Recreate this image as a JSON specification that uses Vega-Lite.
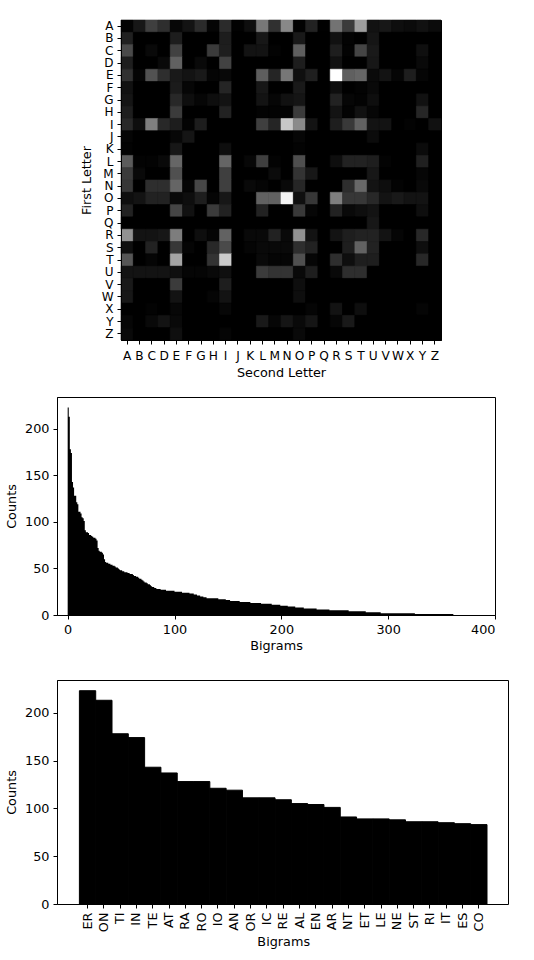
{
  "$schema": "https://vega.github.io/schema/vega-lite/v6.json",
  "padding": {"left": 5, "top": 19, "right": 0, "bottom": 0},
  "background": "white",
  "spacing": 16,
  "config": {
    "font": "DejaVu Sans",
    "axis": {"labelFont": "DejaVu Sans", "titleFont": "DejaVu Sans", "labelFontSize": 12.8, "titleFontSize": 12.8, "titleFontWeight": "normal", "labelColor": "black", "titleColor": "black", "tickColor": "black", "domainColor": "black", "tickSize": 4, "labelPadding": 4, "titlePadding": 5, "grid": false, "domainWidth": 1, "tickWidth": 1},
    "view": {"stroke": "black", "strokeWidth": 1}
  },
  "vconcat": [
    {
      "spacing": 0,
      "hconcat": [
        {"width": 22, "height": 320, "view": {"stroke": null}, "data": {"values": []}, "mark": "point"},
        {
          "width": 320, "height": 320,
          "view": {"fill": "black", "stroke": "black"},
          "data": {"values": [
{"f":"A","s":"A","c":3},{"f":"A","s":"B","c":20},{"f":"A","s":"C","c":55},{"f":"A","s":"D","c":40},{"f":"A","s":"E","c":6},{"f":"A","s":"F","c":17},{"f":"A","s":"G","c":38},{"f":"A","s":"H","c":4},{"f":"A","s":"I","c":38},{"f":"A","s":"J","c":2},{"f":"A","s":"K","c":12},{"f":"A","s":"L","c":105},{"f":"A","s":"M","c":42},{"f":"A","s":"N","c":119},{"f":"A","s":"O","c":2},{"f":"A","s":"P","c":30},{"f":"A","s":"Q","c":1},{"f":"A","s":"R","c":101},{"f":"A","s":"S","c":52},{"f":"A","s":"T","c":137},{"f":"A","s":"U","c":16},{"f":"A","s":"V","c":20},{"f":"A","s":"W","c":12},{"f":"A","s":"X","c":10},{"f":"A","s":"Y","c":15},{"f":"A","s":"Z","c":10},
{"f":"B","s":"A","c":28},{"f":"B","s":"B","c":0},{"f":"B","s":"C","c":0},{"f":"B","s":"D","c":0},{"f":"B","s":"E","c":25},{"f":"B","s":"F","c":0},{"f":"B","s":"G","c":0},{"f":"B","s":"H","c":0},{"f":"B","s":"I","c":25},{"f":"B","s":"J","c":0},{"f":"B","s":"K","c":0},{"f":"B","s":"L","c":20},{"f":"B","s":"M","c":0},{"f":"B","s":"N","c":0},{"f":"B","s":"O","c":22},{"f":"B","s":"P","c":0},{"f":"B","s":"Q","c":0},{"f":"B","s":"R","c":15},{"f":"B","s":"S","c":3},{"f":"B","s":"T","c":0},{"f":"B","s":"U","c":18},{"f":"B","s":"V","c":0},{"f":"B","s":"W","c":0},{"f":"B","s":"X","c":0},{"f":"B","s":"Y","c":0},{"f":"B","s":"Z","c":0},
{"f":"C","s":"A","c":65},{"f":"C","s":"B","c":0},{"f":"C","s":"C","c":8},{"f":"C","s":"D","c":0},{"f":"C","s":"E","c":57},{"f":"C","s":"F","c":0},{"f":"C","s":"G","c":0},{"f":"C","s":"H","c":52},{"f":"C","s":"I","c":26},{"f":"C","s":"J","c":0},{"f":"C","s":"K","c":17},{"f":"C","s":"L","c":17},{"f":"C","s":"M","c":3},{"f":"C","s":"N","c":0},{"f":"C","s":"O","c":83},{"f":"C","s":"P","c":0},{"f":"C","s":"Q","c":0},{"f":"C","s":"R","c":26},{"f":"C","s":"S","c":3},{"f":"C","s":"T","c":60},{"f":"C","s":"U","c":22},{"f":"C","s":"V","c":0},{"f":"C","s":"W","c":0},{"f":"C","s":"X","c":0},{"f":"C","s":"Y","c":13},{"f":"C","s":"Z","c":0},
{"f":"D","s":"A","c":26},{"f":"D","s":"B","c":0},{"f":"D","s":"C","c":0},{"f":"D","s":"D","c":8},{"f":"D","s":"E","c":85},{"f":"D","s":"F","c":0},{"f":"D","s":"G","c":8},{"f":"D","s":"H","c":0},{"f":"D","s":"I","c":58},{"f":"D","s":"J","c":0},{"f":"D","s":"K","c":0},{"f":"D","s":"L","c":0},{"f":"D","s":"M","c":0},{"f":"D","s":"N","c":0},{"f":"D","s":"O","c":25},{"f":"D","s":"P","c":0},{"f":"D","s":"Q","c":0},{"f":"D","s":"R","c":15},{"f":"D","s":"S","c":0},{"f":"D","s":"T","c":0},{"f":"D","s":"U","c":20},{"f":"D","s":"V","c":0},{"f":"D","s":"W","c":0},{"f":"D","s":"X","c":0},{"f":"D","s":"Y","c":8},{"f":"D","s":"Z","c":0},
{"f":"E","s":"A","c":43},{"f":"E","s":"B","c":4},{"f":"E","s":"C","c":72},{"f":"E","s":"D","c":40},{"f":"E","s":"E","c":22},{"f":"E","s":"F","c":17},{"f":"E","s":"G","c":22},{"f":"E","s":"H","c":4},{"f":"E","s":"I","c":7},{"f":"E","s":"J","c":0},{"f":"E","s":"K","c":0},{"f":"E","s":"L","c":82},{"f":"E","s":"M","c":32},{"f":"E","s":"N","c":104},{"f":"E","s":"O","c":13},{"f":"E","s":"P","c":27},{"f":"E","s":"Q","c":0},{"f":"E","s":"R","c":223},{"f":"E","s":"S","c":84},{"f":"E","s":"T","c":89},{"f":"E","s":"U","c":9},{"f":"E","s":"V","c":17},{"f":"E","s":"W","c":4},{"f":"E","s":"X","c":26},{"f":"E","s":"Y","c":4},{"f":"E","s":"Z","c":0},
{"f":"F","s":"A","c":15},{"f":"F","s":"B","c":0},{"f":"F","s":"C","c":0},{"f":"F","s":"D","c":0},{"f":"F","s":"E","c":24},{"f":"F","s":"F","c":5},{"f":"F","s":"G","c":0},{"f":"F","s":"H","c":0},{"f":"F","s":"I","c":32},{"f":"F","s":"J","c":0},{"f":"F","s":"K","c":0},{"f":"F","s":"L","c":20},{"f":"F","s":"M","c":0},{"f":"F","s":"N","c":0},{"f":"F","s":"O","c":22},{"f":"F","s":"P","c":0},{"f":"F","s":"Q","c":0},{"f":"F","s":"R","c":12},{"f":"F","s":"S","c":0},{"f":"F","s":"T","c":3},{"f":"F","s":"U","c":8},{"f":"F","s":"V","c":0},{"f":"F","s":"W","c":0},{"f":"F","s":"X","c":0},{"f":"F","s":"Y","c":0},{"f":"F","s":"Z","c":0},
{"f":"G","s":"A","c":18},{"f":"G","s":"B","c":0},{"f":"G","s":"C","c":0},{"f":"G","s":"D","c":0},{"f":"G","s":"E","c":35},{"f":"G","s":"F","c":12},{"f":"G","s":"G","c":5},{"f":"G","s":"H","c":12},{"f":"G","s":"I","c":17},{"f":"G","s":"J","c":0},{"f":"G","s":"K","c":0},{"f":"G","s":"L","c":17},{"f":"G","s":"M","c":5},{"f":"G","s":"N","c":15},{"f":"G","s":"O","c":18},{"f":"G","s":"P","c":0},{"f":"G","s":"Q","c":0},{"f":"G","s":"R","c":30},{"f":"G","s":"S","c":5},{"f":"G","s":"T","c":3},{"f":"G","s":"U","c":12},{"f":"G","s":"V","c":0},{"f":"G","s":"W","c":0},{"f":"G","s":"X","c":0},{"f":"G","s":"Y","c":15},{"f":"G","s":"Z","c":0},
{"f":"H","s":"A","c":26},{"f":"H","s":"B","c":0},{"f":"H","s":"C","c":0},{"f":"H","s":"D","c":0},{"f":"H","s":"E","c":52},{"f":"H","s":"F","c":0},{"f":"H","s":"G","c":0},{"f":"H","s":"H","c":0},{"f":"H","s":"I","c":30},{"f":"H","s":"J","c":0},{"f":"H","s":"K","c":0},{"f":"H","s":"L","c":3},{"f":"H","s":"M","c":3},{"f":"H","s":"N","c":3},{"f":"H","s":"O","c":52},{"f":"H","s":"P","c":0},{"f":"H","s":"Q","c":0},{"f":"H","s":"R","c":17},{"f":"H","s":"S","c":3},{"f":"H","s":"T","c":15},{"f":"H","s":"U","c":5},{"f":"H","s":"V","c":0},{"f":"H","s":"W","c":0},{"f":"H","s":"X","c":0},{"f":"H","s":"Y","c":33},{"f":"H","s":"Z","c":0},
{"f":"I","s":"A","c":35},{"f":"I","s":"B","c":12},{"f":"I","s":"C","c":111},{"f":"I","s":"D","c":35},{"f":"I","s":"E","c":25},{"f":"I","s":"F","c":3},{"f":"I","s":"G","c":25},{"f":"I","s":"H","c":0},{"f":"I","s":"I","c":0},{"f":"I","s":"J","c":0},{"f":"I","s":"K","c":0},{"f":"I","s":"L","c":55},{"f":"I","s":"M","c":32},{"f":"I","s":"N","c":174},{"f":"I","s":"O","c":121},{"f":"I","s":"P","c":17},{"f":"I","s":"Q","c":0},{"f":"I","s":"R","c":26},{"f":"I","s":"S","c":50},{"f":"I","s":"T","c":85},{"f":"I","s":"U","c":17},{"f":"I","s":"V","c":17},{"f":"I","s":"W","c":0},{"f":"I","s":"X","c":3},{"f":"I","s":"Y","c":0},{"f":"I","s":"Z","c":15},
{"f":"J","s":"A","c":4},{"f":"J","s":"B","c":0},{"f":"J","s":"C","c":0},{"f":"J","s":"D","c":0},{"f":"J","s":"E","c":6},{"f":"J","s":"F","c":18},{"f":"J","s":"G","c":0},{"f":"J","s":"H","c":0},{"f":"J","s":"I","c":0},{"f":"J","s":"J","c":0},{"f":"J","s":"K","c":0},{"f":"J","s":"L","c":0},{"f":"J","s":"M","c":0},{"f":"J","s":"N","c":0},{"f":"J","s":"O","c":5},{"f":"J","s":"P","c":0},{"f":"J","s":"Q","c":0},{"f":"J","s":"R","c":0},{"f":"J","s":"S","c":0},{"f":"J","s":"T","c":0},{"f":"J","s":"U","c":10},{"f":"J","s":"V","c":0},{"f":"J","s":"W","c":0},{"f":"J","s":"X","c":0},{"f":"J","s":"Y","c":0},{"f":"J","s":"Z","c":0},
{"f":"K","s":"A","c":3},{"f":"K","s":"B","c":0},{"f":"K","s":"C","c":0},{"f":"K","s":"D","c":0},{"f":"K","s":"E","c":20},{"f":"K","s":"F","c":0},{"f":"K","s":"G","c":0},{"f":"K","s":"H","c":0},{"f":"K","s":"I","c":12},{"f":"K","s":"J","c":0},{"f":"K","s":"K","c":0},{"f":"K","s":"L","c":0},{"f":"K","s":"M","c":0},{"f":"K","s":"N","c":0},{"f":"K","s":"O","c":3},{"f":"K","s":"P","c":0},{"f":"K","s":"Q","c":0},{"f":"K","s":"R","c":0},{"f":"K","s":"S","c":0},{"f":"K","s":"T","c":0},{"f":"K","s":"U","c":0},{"f":"K","s":"V","c":0},{"f":"K","s":"W","c":0},{"f":"K","s":"X","c":0},{"f":"K","s":"Y","c":10},{"f":"K","s":"Z","c":0},
{"f":"L","s":"A","c":80},{"f":"L","s":"B","c":3},{"f":"L","s":"C","c":3},{"f":"L","s":"D","c":8},{"f":"L","s":"E","c":89},{"f":"L","s":"F","c":0},{"f":"L","s":"G","c":0},{"f":"L","s":"H","c":0},{"f":"L","s":"I","c":88},{"f":"L","s":"J","c":0},{"f":"L","s":"K","c":6},{"f":"L","s":"L","c":55},{"f":"L","s":"M","c":3},{"f":"L","s":"N","c":0},{"f":"L","s":"O","c":68},{"f":"L","s":"P","c":0},{"f":"L","s":"Q","c":0},{"f":"L","s":"R","c":12},{"f":"L","s":"S","c":30},{"f":"L","s":"T","c":30},{"f":"L","s":"U","c":26},{"f":"L","s":"V","c":3},{"f":"L","s":"W","c":0},{"f":"L","s":"X","c":0},{"f":"L","s":"Y","c":28},{"f":"L","s":"Z","c":0},
{"f":"M","s":"A","c":52},{"f":"M","s":"B","c":8},{"f":"M","s":"C","c":0},{"f":"M","s":"D","c":0},{"f":"M","s":"E","c":70},{"f":"M","s":"F","c":0},{"f":"M","s":"G","c":0},{"f":"M","s":"H","c":0},{"f":"M","s":"I","c":55},{"f":"M","s":"J","c":0},{"f":"M","s":"K","c":0},{"f":"M","s":"L","c":0},{"f":"M","s":"M","c":10},{"f":"M","s":"N","c":0},{"f":"M","s":"O","c":45},{"f":"M","s":"P","c":20},{"f":"M","s":"Q","c":0},{"f":"M","s":"R","c":0},{"f":"M","s":"S","c":0},{"f":"M","s":"T","c":0},{"f":"M","s":"U","c":20},{"f":"M","s":"V","c":0},{"f":"M","s":"W","c":0},{"f":"M","s":"X","c":0},{"f":"M","s":"Y","c":5},{"f":"M","s":"Z","c":0},
{"f":"N","s":"A","c":48},{"f":"N","s":"B","c":0},{"f":"N","s":"C","c":40},{"f":"N","s":"D","c":40},{"f":"N","s":"E","c":88},{"f":"N","s":"F","c":4},{"f":"N","s":"G","c":62},{"f":"N","s":"H","c":0},{"f":"N","s":"I","c":55},{"f":"N","s":"J","c":0},{"f":"N","s":"K","c":8},{"f":"N","s":"L","c":4},{"f":"N","s":"M","c":0},{"f":"N","s":"N","c":8},{"f":"N","s":"O","c":33},{"f":"N","s":"P","c":0},{"f":"N","s":"Q","c":0},{"f":"N","s":"R","c":0},{"f":"N","s":"S","c":40},{"f":"N","s":"T","c":91},{"f":"N","s":"U","c":17},{"f":"N","s":"V","c":12},{"f":"N","s":"W","c":3},{"f":"N","s":"X","c":0},{"f":"N","s":"Y","c":8},{"f":"N","s":"Z","c":0},
{"f":"O","s":"A","c":12},{"f":"O","s":"B","c":17},{"f":"O","s":"C","c":30},{"f":"O","s":"D","c":30},{"f":"O","s":"E","c":8},{"f":"O","s":"F","c":12},{"f":"O","s":"G","c":26},{"f":"O","s":"H","c":4},{"f":"O","s":"I","c":20},{"f":"O","s":"J","c":0},{"f":"O","s":"K","c":0},{"f":"O","s":"L","c":85},{"f":"O","s":"M","c":85},{"f":"O","s":"N","c":213},{"f":"O","s":"O","c":13},{"f":"O","s":"P","c":48},{"f":"O","s":"Q","c":0},{"f":"O","s":"R","c":111},{"f":"O","s":"S","c":48},{"f":"O","s":"T","c":48},{"f":"O","s":"U","c":35},{"f":"O","s":"V","c":17},{"f":"O","s":"W","c":22},{"f":"O","s":"X","c":17},{"f":"O","s":"Y","c":17},{"f":"O","s":"Z","c":0},
{"f":"P","s":"A","c":30},{"f":"P","s":"B","c":0},{"f":"P","s":"C","c":0},{"f":"P","s":"D","c":0},{"f":"P","s":"E","c":60},{"f":"P","s":"F","c":15},{"f":"P","s":"G","c":0},{"f":"P","s":"H","c":52},{"f":"P","s":"I","c":30},{"f":"P","s":"J","c":0},{"f":"P","s":"K","c":0},{"f":"P","s":"L","c":30},{"f":"P","s":"M","c":0},{"f":"P","s":"N","c":0},{"f":"P","s":"O","c":50},{"f":"P","s":"P","c":5},{"f":"P","s":"Q","c":0},{"f":"P","s":"R","c":30},{"f":"P","s":"S","c":8},{"f":"P","s":"T","c":12},{"f":"P","s":"U","c":17},{"f":"P","s":"V","c":0},{"f":"P","s":"W","c":0},{"f":"P","s":"X","c":0},{"f":"P","s":"Y","c":12},{"f":"P","s":"Z","c":0},
{"f":"Q","s":"A","c":0},{"f":"Q","s":"B","c":0},{"f":"Q","s":"C","c":0},{"f":"Q","s":"D","c":0},{"f":"Q","s":"E","c":0},{"f":"Q","s":"F","c":0},{"f":"Q","s":"G","c":0},{"f":"Q","s":"H","c":0},{"f":"Q","s":"I","c":0},{"f":"Q","s":"J","c":0},{"f":"Q","s":"K","c":0},{"f":"Q","s":"L","c":0},{"f":"Q","s":"M","c":0},{"f":"Q","s":"N","c":0},{"f":"Q","s":"O","c":0},{"f":"Q","s":"P","c":0},{"f":"Q","s":"Q","c":0},{"f":"Q","s":"R","c":0},{"f":"Q","s":"S","c":0},{"f":"Q","s":"T","c":0},{"f":"Q","s":"U","c":20},{"f":"Q","s":"V","c":0},{"f":"Q","s":"W","c":0},{"f":"Q","s":"X","c":0},{"f":"Q","s":"Y","c":0},{"f":"Q","s":"Z","c":0},
{"f":"R","s":"A","c":128},{"f":"R","s":"B","c":17},{"f":"R","s":"C","c":17},{"f":"R","s":"D","c":20},{"f":"R","s":"E","c":109},{"f":"R","s":"F","c":0},{"f":"R","s":"G","c":12},{"f":"R","s":"H","c":4},{"f":"R","s":"I","c":86},{"f":"R","s":"J","c":0},{"f":"R","s":"K","c":8},{"f":"R","s":"L","c":8},{"f":"R","s":"M","c":30},{"f":"R","s":"N","c":8},{"f":"R","s":"O","c":128},{"f":"R","s":"P","c":17},{"f":"R","s":"Q","c":0},{"f":"R","s":"R","c":17},{"f":"R","s":"S","c":26},{"f":"R","s":"T","c":30},{"f":"R","s":"U","c":30},{"f":"R","s":"V","c":17},{"f":"R","s":"W","c":4},{"f":"R","s":"X","c":0},{"f":"R","s":"Y","c":35},{"f":"R","s":"Z","c":0},
{"f":"S","s":"A","c":13},{"f":"S","s":"B","c":0},{"f":"S","s":"C","c":30},{"f":"S","s":"D","c":0},{"f":"S","s":"E","c":48},{"f":"S","s":"F","c":4},{"f":"S","s":"G","c":0},{"f":"S","s":"H","c":35},{"f":"S","s":"I","c":65},{"f":"S","s":"J","c":0},{"f":"S","s":"K","c":4},{"f":"S","s":"L","c":8},{"f":"S","s":"M","c":8},{"f":"S","s":"N","c":8},{"f":"S","s":"O","c":40},{"f":"S","s":"P","c":30},{"f":"S","s":"Q","c":0},{"f":"S","s":"R","c":0},{"f":"S","s":"S","c":26},{"f":"S","s":"T","c":86},{"f":"S","s":"U","c":30},{"f":"S","s":"V","c":0},{"f":"S","s":"W","c":0},{"f":"S","s":"X","c":0},{"f":"S","s":"Y","c":12},{"f":"S","s":"Z","c":0},
{"f":"T","s":"A","c":75},{"f":"T","s":"B","c":0},{"f":"T","s":"C","c":4},{"f":"T","s":"D","c":0},{"f":"T","s":"E","c":143},{"f":"T","s":"F","c":0},{"f":"T","s":"G","c":0},{"f":"T","s":"H","c":45},{"f":"T","s":"I","c":178},{"f":"T","s":"J","c":0},{"f":"T","s":"K","c":0},{"f":"T","s":"L","c":8},{"f":"T","s":"M","c":4},{"f":"T","s":"N","c":4},{"f":"T","s":"O","c":70},{"f":"T","s":"P","c":5},{"f":"T","s":"Q","c":0},{"f":"T","s":"R","c":40},{"f":"T","s":"S","c":12},{"f":"T","s":"T","c":26},{"f":"T","s":"U","c":26},{"f":"T","s":"V","c":0},{"f":"T","s":"W","c":0},{"f":"T","s":"X","c":0},{"f":"T","s":"Y","c":35},{"f":"T","s":"Z","c":0},
{"f":"U","s":"A","c":17},{"f":"U","s":"B","c":17},{"f":"U","s":"C","c":17},{"f":"U","s":"D","c":17},{"f":"U","s":"E","c":13},{"f":"U","s":"F","c":4},{"f":"U","s":"G","c":4},{"f":"U","s":"H","c":8},{"f":"U","s":"I","c":13},{"f":"U","s":"J","c":0},{"f":"U","s":"K","c":0},{"f":"U","s":"L","c":52},{"f":"U","s":"M","c":45},{"f":"U","s":"N","c":45},{"f":"U","s":"O","c":8},{"f":"U","s":"P","c":26},{"f":"U","s":"Q","c":0},{"f":"U","s":"R","c":8},{"f":"U","s":"S","c":40},{"f":"U","s":"T","c":40},{"f":"U","s":"U","c":0},{"f":"U","s":"V","c":0},{"f":"U","s":"W","c":0},{"f":"U","s":"X","c":0},{"f":"U","s":"Y","c":0},{"f":"U","s":"Z","c":0},
{"f":"V","s":"A","c":22},{"f":"V","s":"B","c":0},{"f":"V","s":"C","c":0},{"f":"V","s":"D","c":0},{"f":"V","s":"E","c":52},{"f":"V","s":"F","c":0},{"f":"V","s":"G","c":0},{"f":"V","s":"H","c":0},{"f":"V","s":"I","c":26},{"f":"V","s":"J","c":0},{"f":"V","s":"K","c":0},{"f":"V","s":"L","c":0},{"f":"V","s":"M","c":0},{"f":"V","s":"N","c":0},{"f":"V","s":"O","c":12},{"f":"V","s":"P","c":0},{"f":"V","s":"Q","c":0},{"f":"V","s":"R","c":0},{"f":"V","s":"S","c":0},{"f":"V","s":"T","c":0},{"f":"V","s":"U","c":0},{"f":"V","s":"V","c":0},{"f":"V","s":"W","c":0},{"f":"V","s":"X","c":0},{"f":"V","s":"Y","c":0},{"f":"V","s":"Z","c":0},
{"f":"W","s":"A","c":20},{"f":"W","s":"B","c":0},{"f":"W","s":"C","c":0},{"f":"W","s":"D","c":0},{"f":"W","s":"E","c":17},{"f":"W","s":"F","c":0},{"f":"W","s":"G","c":0},{"f":"W","s":"H","c":4},{"f":"W","s":"I","c":17},{"f":"W","s":"J","c":0},{"f":"W","s":"K","c":0},{"f":"W","s":"L","c":0},{"f":"W","s":"M","c":0},{"f":"W","s":"N","c":0},{"f":"W","s":"O","c":12},{"f":"W","s":"P","c":0},{"f":"W","s":"Q","c":0},{"f":"W","s":"R","c":0},{"f":"W","s":"S","c":0},{"f":"W","s":"T","c":0},{"f":"W","s":"U","c":0},{"f":"W","s":"V","c":0},{"f":"W","s":"W","c":0},{"f":"W","s":"X","c":0},{"f":"W","s":"Y","c":0},{"f":"W","s":"Z","c":0},
{"f":"X","s":"A","c":0},{"f":"X","s":"B","c":0},{"f":"X","s":"C","c":3},{"f":"X","s":"D","c":0},{"f":"X","s":"E","c":6},{"f":"X","s":"F","c":0},{"f":"X","s":"G","c":0},{"f":"X","s":"H","c":0},{"f":"X","s":"I","c":6},{"f":"X","s":"J","c":0},{"f":"X","s":"K","c":0},{"f":"X","s":"L","c":0},{"f":"X","s":"M","c":0},{"f":"X","s":"N","c":0},{"f":"X","s":"O","c":0},{"f":"X","s":"P","c":4},{"f":"X","s":"Q","c":0},{"f":"X","s":"R","c":17},{"f":"X","s":"S","c":0},{"f":"X","s":"T","c":12},{"f":"X","s":"U","c":0},{"f":"X","s":"V","c":0},{"f":"X","s":"W","c":0},{"f":"X","s":"X","c":0},{"f":"X","s":"Y","c":4},{"f":"X","s":"Z","c":0},
{"f":"Y","s":"A","c":5},{"f":"Y","s":"B","c":0},{"f":"Y","s":"C","c":8},{"f":"Y","s":"D","c":17},{"f":"Y","s":"E","c":8},{"f":"Y","s":"F","c":0},{"f":"Y","s":"G","c":0},{"f":"Y","s":"H","c":0},{"f":"Y","s":"I","c":0},{"f":"Y","s":"J","c":0},{"f":"Y","s":"K","c":0},{"f":"Y","s":"L","c":22},{"f":"Y","s":"M","c":5},{"f":"Y","s":"N","c":18},{"f":"Y","s":"O","c":8},{"f":"Y","s":"P","c":18},{"f":"Y","s":"Q","c":0},{"f":"Y","s":"R","c":5},{"f":"Y","s":"S","c":22},{"f":"Y","s":"T","c":0},{"f":"Y","s":"U","c":0},{"f":"Y","s":"V","c":0},{"f":"Y","s":"W","c":0},{"f":"Y","s":"X","c":0},{"f":"Y","s":"Y","c":0},{"f":"Y","s":"Z","c":0},
{"f":"Z","s":"A","c":8},{"f":"Z","s":"B","c":0},{"f":"Z","s":"C","c":0},{"f":"Z","s":"D","c":0},{"f":"Z","s":"E","c":13},{"f":"Z","s":"F","c":0},{"f":"Z","s":"G","c":0},{"f":"Z","s":"H","c":0},{"f":"Z","s":"I","c":4},{"f":"Z","s":"J","c":0},{"f":"Z","s":"K","c":0},{"f":"Z","s":"L","c":0},{"f":"Z","s":"M","c":0},{"f":"Z","s":"N","c":0},{"f":"Z","s":"O","c":8},{"f":"Z","s":"P","c":0},{"f":"Z","s":"Q","c":0},{"f":"Z","s":"R","c":0},{"f":"Z","s":"S","c":0},{"f":"Z","s":"T","c":0},{"f":"Z","s":"U","c":0},{"f":"Z","s":"V","c":0},{"f":"Z","s":"W","c":0},{"f":"Z","s":"X","c":0},{"f":"Z","s":"Y","c":0},{"f":"Z","s":"Z","c":0}
          ]},
          "mark": {"type": "rect", "strokeWidth": 0.6},
          "encoding": {
            "x": {"field": "s", "type": "nominal", "title": "Second Letter", "scale": {"paddingInner": 0, "paddingOuter": 0}, "axis": {"labelAngle": 0, "labelFontSize": 12.2, "labelPadding": 5, "titlePadding": 5}},
            "y": {"field": "f", "type": "nominal", "title": "First Letter", "scale": {"paddingInner": 0, "paddingOuter": 0}, "axis": {"labelFontSize": 12, "labelPadding": 4, "titlePadding": 8}},
            "color": {"field": "c", "type": "quantitative", "scale": {"domain": [0, 223], "range": ["#000000", "#ffffff"], "interpolate": "rgb"}, "legend": null},
            "stroke": {"field": "c", "type": "quantitative", "scale": {"domain": [0, 223], "range": ["#000000", "#ffffff"], "interpolate": "rgb"}, "legend": null}
          }
        }
      ]
    },
    {
      "spacing": 25,
      "vconcat": [
        {
          "width": 438, "height": 218,
          "data": {"values": [
{"r":0,"c":223},{"r":1,"c":213},{"r":2,"c":178},{"r":3,"c":174},{"r":4,"c":143},{"r":5,"c":137},{"r":6,"c":128},{"r":7,"c":128},{"r":8,"c":121},{"r":9,"c":119},{"r":10,"c":111},{"r":11,"c":111},{"r":12,"c":109},{"r":13,"c":105},{"r":14,"c":104},{"r":15,"c":101},{"r":16,"c":91},{"r":17,"c":89},{"r":18,"c":89},{"r":19,"c":88},{"r":20,"c":86},{"r":21,"c":86},{"r":22,"c":85},{"r":23,"c":84},{"r":24,"c":83},
{"r":25,"c":83},{"r":26,"c":82},{"r":27,"c":80},{"r":28,"c":72},{"r":29,"c":69},{"r":30,"c":68},{"r":31,"c":68},{"r":32,"c":67},{"r":33,"c":65},{"r":34,"c":60},{"r":35,"c":57},{"r":36,"c":56},{"r":37,"c":56},{"r":38,"c":55},{"r":39,"c":55},{"r":40,"c":54},{"r":41,"c":54},{"r":42,"c":53},{"r":43,"c":53},{"r":44,"c":52},{"r":45,"c":51},{"r":46,"c":51},{"r":47,"c":50},{"r":48,"c":49},{"r":49,"c":48},{"r":50,"c":48},{"r":51,"c":47},{"r":52,"c":47},{"r":53,"c":46},{"r":54,"c":46},{"r":55,"c":46},{"r":56,"c":45},{"r":57,"c":45},{"r":58,"c":44},{"r":59,"c":44},{"r":60,"c":44},{"r":61,"c":43},{"r":62,"c":42},{"r":63,"c":42},{"r":64,"c":41},{"r":65,"c":41},{"r":66,"c":40},{"r":67,"c":39},{"r":68,"c":39},{"r":69,"c":38},{"r":70,"c":37},{"r":71,"c":36},{"r":72,"c":35},{"r":73,"c":35},{"r":74,"c":34},{"r":75,"c":33},{"r":76,"c":33},{"r":77,"c":32},{"r":78,"c":31},{"r":79,"c":30},{"r":80,"c":30},{"r":81,"c":29},{"r":82,"c":29},{"r":83,"c":28},{"r":84,"c":28},{"r":85,"c":28},{"r":86,"c":28},{"r":87,"c":27},{"r":88,"c":27},{"r":89,"c":27},{"r":90,"c":27},{"r":91,"c":27},
{"r":92,"c":26},{"r":93,"c":26},{"r":94,"c":26},{"r":95,"c":26},{"r":96,"c":26},{"r":97,"c":26},{"r":98,"c":26},{"r":99,"c":26},
{"r":100,"c":25},{"r":101,"c":25},{"r":102,"c":25},{"r":103,"c":25},{"r":104,"c":25},{"r":105,"c":25},{"r":106,"c":25},
{"r":107,"c":24},{"r":108,"c":24},{"r":109,"c":24},{"r":110,"c":24},{"r":111,"c":24},{"r":112,"c":24},{"r":113,"c":24},
{"r":114,"c":23},{"r":115,"c":23},{"r":116,"c":23},{"r":117,"c":23},
{"r":118,"c":22},{"r":119,"c":22},{"r":120,"c":22},
{"r":121,"c":21},{"r":122,"c":21},{"r":123,"c":21},
{"r":124,"c":20},{"r":125,"c":20},{"r":126,"c":20},
{"r":127,"c":19},{"r":128,"c":19},{"r":129,"c":19},
{"r":130,"c":18},{"r":131,"c":18},{"r":132,"c":18},{"r":133,"c":18},{"r":134,"c":18},{"r":135,"c":18},{"r":136,"c":18},{"r":137,"c":18},{"r":138,"c":18},{"r":139,"c":18},{"r":140,"c":18},
{"r":141,"c":17},{"r":142,"c":17},{"r":143,"c":17},{"r":144,"c":17},{"r":145,"c":17},{"r":146,"c":17},{"r":147,"c":17},
{"r":148,"c":16},{"r":149,"c":16},{"r":150,"c":16},{"r":151,"c":16},
{"r":152,"c":15},{"r":153,"c":15},{"r":154,"c":15},{"r":155,"c":15},{"r":156,"c":15},{"r":157,"c":15},{"r":158,"c":15},{"r":159,"c":15},{"r":160,"c":15},
{"r":161,"c":14},{"r":162,"c":14},{"r":163,"c":14},{"r":164,"c":14},{"r":165,"c":14},{"r":166,"c":14},{"r":167,"c":14},{"r":168,"c":14},{"r":169,"c":14},{"r":170,"c":14},
{"r":171,"c":13},{"r":172,"c":13},{"r":173,"c":13},{"r":174,"c":13},{"r":175,"c":13},{"r":176,"c":13},{"r":177,"c":13},{"r":178,"c":13},{"r":179,"c":13},{"r":180,"c":13},
{"r":181,"c":12},{"r":182,"c":12},{"r":183,"c":12},{"r":184,"c":12},{"r":185,"c":12},{"r":186,"c":12},{"r":187,"c":12},{"r":188,"c":12},{"r":189,"c":12},{"r":190,"c":12},
{"r":191,"c":11},{"r":192,"c":11},{"r":193,"c":11},{"r":194,"c":11},{"r":195,"c":11},{"r":196,"c":11},{"r":197,"c":11},{"r":198,"c":11},
{"r":199,"c":10},{"r":200,"c":10},{"r":201,"c":10},{"r":202,"c":10},{"r":203,"c":10},{"r":204,"c":10},{"r":205,"c":10},
{"r":206,"c":9},{"r":207,"c":9},{"r":208,"c":9},{"r":209,"c":9},{"r":210,"c":9},{"r":211,"c":9},{"r":212,"c":9},
{"r":213,"c":8},{"r":214,"c":8},{"r":215,"c":8},{"r":216,"c":8},{"r":217,"c":8},{"r":218,"c":8},{"r":219,"c":8},{"r":220,"c":8},
{"r":221,"c":7},{"r":222,"c":7},{"r":223,"c":7},{"r":224,"c":7},{"r":225,"c":7},{"r":226,"c":7},{"r":227,"c":7},{"r":228,"c":7},{"r":229,"c":7},{"r":230,"c":7},{"r":231,"c":7},{"r":232,"c":7},
{"r":233,"c":6},{"r":234,"c":6},{"r":235,"c":6},{"r":236,"c":6},{"r":237,"c":6},{"r":238,"c":6},{"r":239,"c":6},{"r":240,"c":6},{"r":241,"c":6},{"r":242,"c":6},{"r":243,"c":6},{"r":244,"c":6},
{"r":245,"c":5},{"r":246,"c":5},{"r":247,"c":5},{"r":248,"c":5},{"r":249,"c":5},{"r":250,"c":5},{"r":251,"c":5},{"r":252,"c":5},{"r":253,"c":5},{"r":254,"c":5},{"r":255,"c":5},{"r":256,"c":5},{"r":257,"c":5},{"r":258,"c":5},{"r":259,"c":5},{"r":260,"c":5},{"r":261,"c":5},{"r":262,"c":5},
{"r":263,"c":4},{"r":264,"c":4},{"r":265,"c":4},{"r":266,"c":4},{"r":267,"c":4},{"r":268,"c":4},{"r":269,"c":4},{"r":270,"c":4},{"r":271,"c":4},{"r":272,"c":4},{"r":273,"c":4},{"r":274,"c":4},{"r":275,"c":4},{"r":276,"c":4},{"r":277,"c":4},{"r":278,"c":4},
{"r":279,"c":3},{"r":280,"c":3},{"r":281,"c":3},{"r":282,"c":3},{"r":283,"c":3},{"r":284,"c":3},{"r":285,"c":3},{"r":286,"c":3},{"r":287,"c":3},{"r":288,"c":3},{"r":289,"c":3},{"r":290,"c":3},{"r":291,"c":3},{"r":292,"c":3},
{"r":293,"c":2},{"r":294,"c":2},{"r":295,"c":2},{"r":296,"c":2},{"r":297,"c":2},{"r":298,"c":2},{"r":299,"c":2},{"r":300,"c":2},{"r":301,"c":2},{"r":302,"c":2},{"r":303,"c":2},{"r":304,"c":2},{"r":305,"c":2},{"r":306,"c":2},{"r":307,"c":2},{"r":308,"c":2},{"r":309,"c":2},{"r":310,"c":2},{"r":311,"c":2},{"r":312,"c":2},{"r":313,"c":2},{"r":314,"c":2},{"r":315,"c":2},{"r":316,"c":2},{"r":317,"c":2},{"r":318,"c":2},{"r":319,"c":2},{"r":320,"c":2},{"r":321,"c":2},{"r":322,"c":2},{"r":323,"c":2},{"r":324,"c":2},
{"r":325,"c":1},{"r":326,"c":1},{"r":327,"c":1},{"r":328,"c":1},{"r":329,"c":1},{"r":330,"c":1},{"r":331,"c":1},{"r":332,"c":1},{"r":333,"c":1},{"r":334,"c":1},{"r":335,"c":1},{"r":336,"c":1},{"r":337,"c":1},{"r":338,"c":1},{"r":339,"c":1},{"r":340,"c":1},{"r":341,"c":1},{"r":342,"c":1},{"r":343,"c":1},{"r":344,"c":1},{"r":345,"c":1},{"r":346,"c":1},{"r":347,"c":1},{"r":348,"c":1},{"r":349,"c":1},{"r":350,"c":1},{"r":351,"c":1},{"r":352,"c":1},{"r":353,"c":1},{"r":354,"c":1},{"r":355,"c":1},{"r":356,"c":1},{"r":357,"c":1},{"r":358,"c":1},{"r":359,"c":1},{"r":360,"c":1},{"r":361,"c":1}
          ]},
          "mark": {"type": "area", "interpolate": "step-after", "color": "black"},
          "encoding": {
            "x": {"field": "r", "type": "quantitative", "title": "Bigrams", "scale": {"domain": [-10, 400], "nice": false, "zero": false}, "axis": {"values": [0, 100, 200, 300, 400], "titlePadding": 4}},
            "y": {"field": "c", "type": "quantitative", "title": "Counts", "scale": {"domain": [0, 234.2], "nice": false}, "axis": {"values": [0, 50, 100, 150, 200], "titlePadding": 6}}
          }
        },
        {
          "width": 451, "height": 224,
          "data": {"values": [
{"b":"ER","c":223},{"b":"ON","c":213},{"b":"TI","c":178},{"b":"IN","c":174},{"b":"TE","c":143},{"b":"AT","c":137},{"b":"RA","c":128},{"b":"RO","c":128},{"b":"IO","c":121},{"b":"AN","c":119},{"b":"OR","c":111},{"b":"IC","c":111},{"b":"RE","c":109},{"b":"AL","c":105},{"b":"EN","c":104},{"b":"AR","c":101},{"b":"NT","c":91},{"b":"ET","c":89},{"b":"LE","c":89},{"b":"NE","c":88},{"b":"ST","c":86},{"b":"RI","c":86},{"b":"IT","c":85},{"b":"ES","c":84},{"b":"CO","c":83}
          ]},
          "mark": {"type": "bar", "color": "black", "stroke": "black", "strokeWidth": 1},
          "encoding": {
            "x": {"field": "b", "type": "nominal", "sort": null, "title": "Bigrams", "scale": {"paddingInner": 0, "paddingOuter": 0, "range": [22.4, 430]}, "axis": {"labelAngle": -90, "titlePadding": 4}},
            "y": {"field": "c", "type": "quantitative", "title": "Counts", "scale": {"domain": [0, 234.2], "nice": false}, "axis": {"values": [0, 50, 100, 150, 200], "titlePadding": 6}}
          }
        }
      ]
    }
  ]
}
